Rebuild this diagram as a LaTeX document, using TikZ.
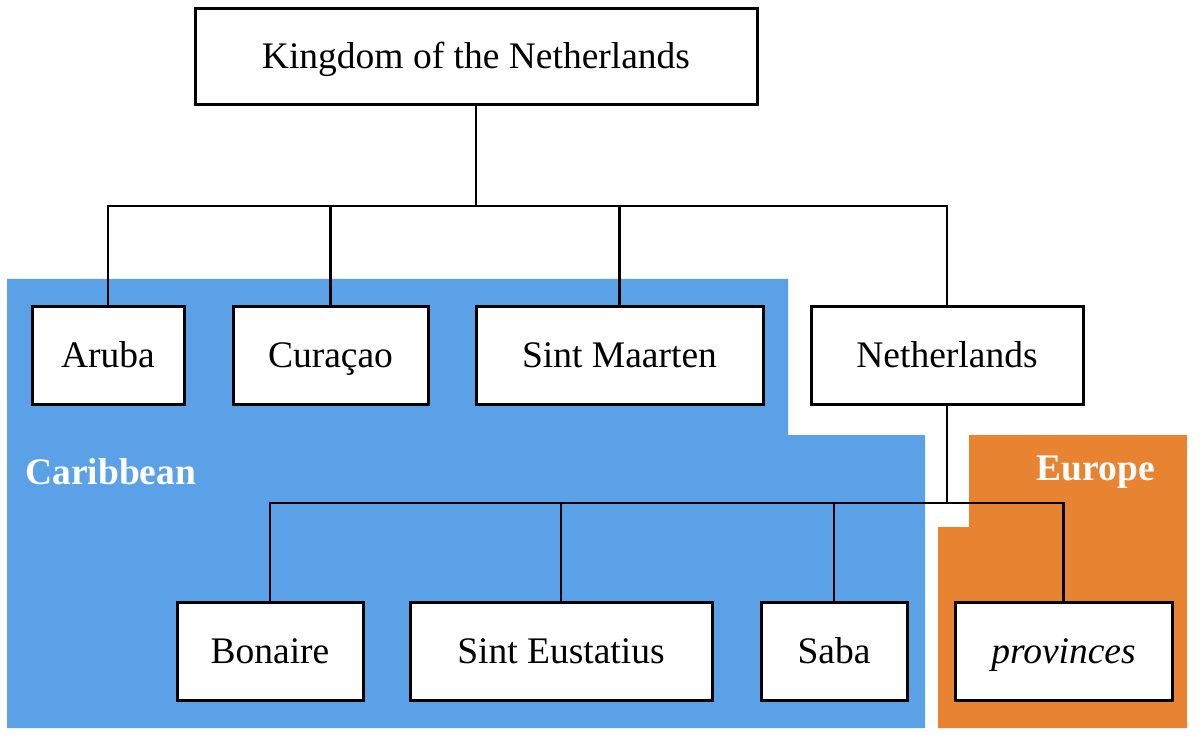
\documentclass[tikz,border=0pt]{standalone}
\usepackage{fontspec}
\setmainfont{Liberation Serif}
\usetikzlibrary{positioning}
\definecolor{caribblue}{RGB}{90,161,231}
\definecolor{euorange}{RGB}{232,131,50}

\begin{document}
\begin{tikzpicture}[x=1pt,y=-1pt,line width=2.7pt,
	unit/.style={draw,fill=white,line width=3pt,minimum height=98pt,inner sep=0pt,
		text height=30pt,text depth=6pt,font=\fontsize{37.5}{44}\selectfont},
	region/.style={inner sep=0pt,text=white,font=\bfseries\fontsize{37.5}{44}\selectfont}]
	\useasboundingbox (0,0) rectangle (1200,746);

	% the two areas
	\fill[caribblue] (7,279) -- (788,279) -- (788,435) -- (925,435) -- (925,728) -- (7,728) -- cycle;
	\fill[euorange] (969,435) -- (1187,435) -- (1187,728) -- (938,728) -- (938,527) -- (969,527) -- cycle;
	\node[region,anchor=west] (carib) at (24,472) {Caribbean};
	\node[region,anchor=east] (europe) at (1156,472) {Europe};

	\node[unit,minimum width=562pt,minimum height=96pt] (kingdom) at (476,57) {Kingdom of the Netherlands};

	\node[unit,minimum width=152pt] (aruba) at (108,355) {Aruba};
	\node[unit,minimum width=195pt] (curacao) at (330.5,355) {Curaçao};
	\node[unit,minimum width=287pt] (maarten) at (619.5,355) {Sint Maarten};
	\node[unit,minimum width=272pt] (netherlands) at (947,355) {Netherlands};

	\node[unit,minimum width=186pt] (bonaire) at (270,651.5) {Bonaire};
	\node[unit,minimum width=302pt] (eustatius) at (561,651.5) {Sint Eustatius};
	\node[unit,minimum width=146pt] (saba) at (834,651.5) {Saba};
	\node[unit,minimum width=217pt] (provinces) at (1063.5,651.5) {\itshape provinces};

	\coordinate (topbus) at (476,206);
	\coordinate (lowbus) at (947,503);
	\draw (kingdom.south) -- (topbus);
	\foreach \n in {aruba,curacao,maarten,netherlands}
		\draw (\n.north) |- (topbus);
	\draw (netherlands.south) -- (lowbus);
	\foreach \n in {bonaire,eustatius,saba,provinces}
		\draw (\n.north) |- (lowbus);

\end{tikzpicture}
\end{document}
